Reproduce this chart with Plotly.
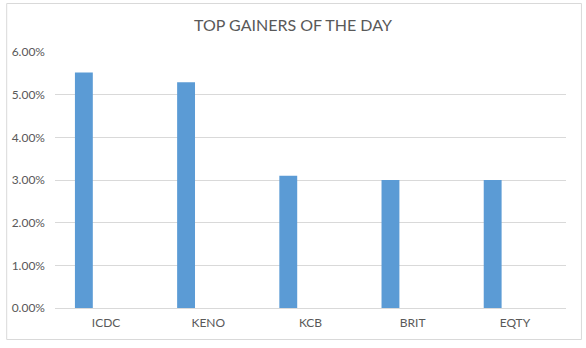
import plotly.graph_objects as go

categories = ["ICDC", "KENO", "KCB", "BRIT", "EQTY"]
gains = [0.0552, 0.0529, 0.0310, 0.0300, 0.0300]
y_ticks = [0, 0.01, 0.02, 0.03, 0.04, 0.05, 0.06]

W, H = 586, 348
L, R, T, B = 53, 20, 52, 40
pw, ph = W - L - R, H - T - B

def px_x(x):
    return (x - L) / pw

def px_y(y):
    return (H - B - y) / ph

fig = go.Figure()
fig.add_trace(go.Bar(
    x=categories, y=gains,
    marker=dict(color="#5b9bd5", line=dict(width=0)),
    width=0.175, offset=-0.305,
    hoverinfo="x+y",
))

font_fam = "Lato, 'Open Sans', sans-serif"
fig.update_layout(
    width=W, height=H,
    margin=dict(l=L, r=R, t=T, b=B),
    paper_bgcolor="white", plot_bgcolor="white",
    showlegend=False,
    title=dict(text="TOP GAINERS OF THE DAY", x=0.5, xanchor="center",
               xref="container", yref="container", y=1 - 25 / H, yanchor="middle",
               font=dict(family=font_fam, size=16, color="#595959")),
    xaxis=dict(range=[-0.5, 4.5], showgrid=False, showline=True, linecolor="#d9d9d9",
               linewidth=1, ticks="", ticklabelstandoff=4,
               tickfont=dict(family=font_fam, size=12, color="#595959")),
    yaxis=dict(range=[0, 0.06], tickvals=y_ticks, tickformat=".2%", showgrid=True,
               gridcolor="#d9d9d9", gridwidth=1, zeroline=False, showline=False, ticks="",
               ticklabelstandoff=9,
               tickfont=dict(family=font_fam, size=12, color="#595959")),
    shapes=[dict(type="rect", xref="paper", yref="paper",
                 x0=px_x(4.5), x1=px_x(581.5), y0=px_y(339.5), y1=px_y(3.5),
                 line=dict(color="#d9d9d9", width=1), fillcolor="rgba(0,0,0,0)", layer="below")],
)

fig.write_html("out.html")
